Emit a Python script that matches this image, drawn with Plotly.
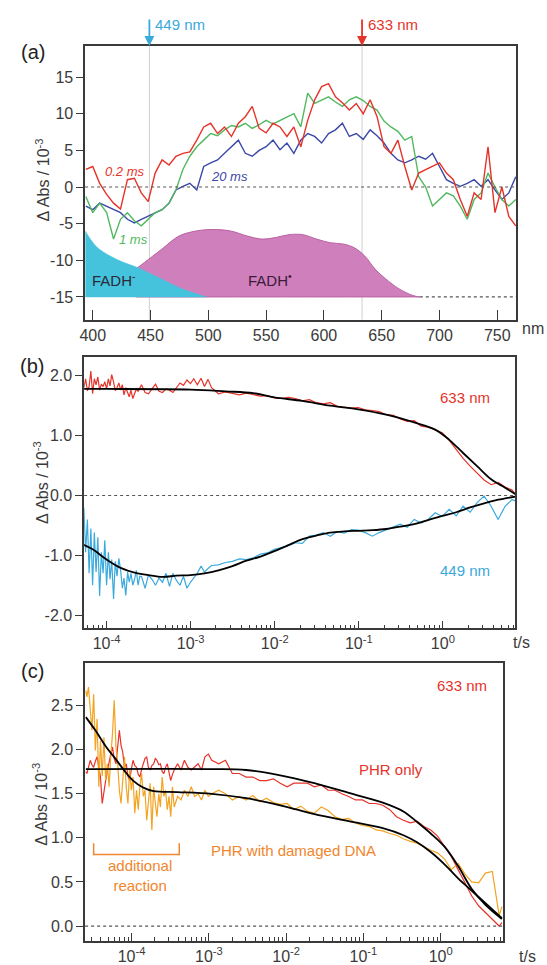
import math
import plotly.graph_objects as go

# ---------------- data: panel (a) transient spectra ----------------
wavelength_nm = [394, 400, 406, 412, 418, 424, 430, 436, 442, 448, 454, 460, 466, 472, 478, 484,
                 490, 496, 502, 508, 514, 520, 526, 532, 538, 544, 550, 556, 562, 568, 574, 580,
                 586, 592, 598, 604, 610, 616, 622, 628, 634, 640, 646, 652, 658, 664, 670, 676,
                 682, 688, 694, 700, 706, 712, 718, 724, 730, 736, 742, 748, 754, 760, 766]
spec_02ms = [2.4, 2.8, 0.5, -1.0, -2.2, -3.0, 1.0, 1.2, -0.8, -2.0, 1.9, 3.7, 3.0, 4.2, 4.6, 4.8,
             6.4, 8.2, 8.7, 7.3, 8.2, 6.9, 8.7, 9.6, 11.0, 8.0, 7.4, 8.7, 8.2, 6.9, 8.2, 5.5,
             9.1, 11.9, 13.7, 14.1, 12.3, 11.5, 10.5, 11.4, 10.0, 11.9, 9.6, 5.5, 4.6, 6.4, 2.8, -0.4,
             1.9, 2.4, 2.8, 3.3, 1.9, 1.0, -1.7, -4.0, -0.8, -1.7, 5.5, -3.5, 0.0, -4.0, -5.3]
spec_1ms = [-1.3, -3.5, -2.2, -3.5, -7.1, -4.4, -3.5, -4.6, -5.3, -4.4, -3.5, -3.1, -2.2, -0.4, 2.4, 4.2,
            5.5, 6.4, 7.3, 7.0, 7.8, 8.4, 8.2, 8.7, 8.0, 8.5, 9.1, 8.6, 9.1, 9.5, 10.0, 8.2,
            12.8, 11.4, 11.8, 12.3, 11.6, 11.0, 11.9, 12.3, 11.8, 11.0, 10.5, 9.0, 8.2, 7.6, 6.4, 6.9,
            1.4, 0.0, -2.6, -1.7, -0.8, -1.2, -2.6, -4.4, -1.7, -0.8, 1.9, 0.0, -1.7, -2.6, -1.7]
spec_20ms = [-2.6, -3.1, -2.2, -2.6, -3.1, -3.5, -4.4, -4.9, -4.4, -4.0, -3.5, -3.1, -2.2, -0.4, 0.1, 0.5,
             -0.4, 2.8, 3.3, 3.7, 4.6, 5.5, 6.4, 4.6, 4.2, 5.0, 5.5, 6.4, 5.1, 6.0, 4.6, 6.4,
             7.3, 6.9, 6.0, 7.3, 7.8, 8.7, 6.9, 7.3, 6.5, 7.8, 7.0, 6.0, 4.6, 3.7, 3.3, 3.7,
             4.2, 3.8, 4.6, 2.8, 1.0, 0.5, 0.1, 0.5, 1.0, 0.1, 1.0, -0.4, -1.7, -0.8, 1.4]
# reference absorption shapes (offset baseline)
ref_baseline = -15.0
fadh_anion_nm = [393.5, 403, 415, 427, 439, 451, 462.6, 474.5, 486.4, 498.3]
fadh_anion_val = [-6.0, -8.1, -9.4, -10.3, -11.0, -11.9, -12.8, -13.7, -14.4, -15.0]
fadh_radical_nm = [437.2, 444.7, 459.6, 474.5, 489.4, 504.3, 519.2, 534.0, 546.0, 557.9, 569.8,
                   581.7, 593.6, 605.5, 617.5, 626.4, 635.3, 644.3, 653.2, 665.1, 677.0, 683.0]
fadh_radical_val = [-11.2, -10.3, -8.5, -6.7, -6.0, -5.8, -6.0, -6.7, -7.1, -6.9, -6.5,
                    -6.5, -7.1, -7.6, -7.8, -8.3, -9.4, -11.2, -12.5, -13.9, -14.8, -15.0]
probe_nm = [449, 633]

# ---------------- data: panel (b) kinetics ----------------
t_b = [5.21e-5, 5.37e-5, 5.63e-5, 5.91e-5, 6.20e-5, 6.50e-5, 6.82e-5, 7.15e-5, 7.50e-5, 7.87e-5,
       8.26e-5, 8.67e-5, 9.09e-5, 9.53e-5, 1.00e-4, 1.05e-4, 1.10e-4, 1.15e-4, 1.21e-4, 1.27e-4,
       1.33e-4, 1.40e-4, 1.47e-4, 1.54e-4, 1.61e-4, 1.69e-4, 1.78e-4, 1.86e-4, 1.95e-4, 2.05e-4,
       2.15e-4, 2.26e-4, 2.37e-4, 2.48e-4, 2.60e-4,
       2.87e-4, 3.15e-4, 3.47e-4, 3.82e-4, 4.20e-4, 4.63e-4, 5.09e-4, 5.60e-4, 6.16e-4, 6.78e-4,
       7.46e-4, 8.21e-4, 9.03e-4, 9.94e-4, 1.09e-3, 1.20e-3, 1.33e-3, 1.46e-3, 1.61e-3, 1.77e-3,
       2.14e-3, 2.59e-3, 3.14e-3, 3.80e-3, 4.60e-3, 5.57e-3, 6.75e-3, 8.18e-3, 9.91e-3, 0.0120,
       0.0145, 0.0176, 0.0213, 0.0258, 0.0313, 0.0379, 0.0458, 0.0555, 0.0672, 0.0814,
       0.0986, 0.119, 0.145, 0.175, 0.212, 0.257, 0.311, 0.377, 0.456, 0.552,
       0.669, 0.810, 0.981, 1.19, 1.44, 1.74, 2.11, 2.55, 3.09, 3.75, 4.54, 5.50, 6.65, 7.31]
abs633_b = [1.88, 1.80, 1.95, 1.75, 1.82, 2.08, 1.70, 1.95, 1.85, 1.98,
            1.76, 1.86, 1.82, 1.90, 1.78, 1.95, 1.83, 2.02, 1.90, 1.75,
            1.80, 1.88, 1.76, 1.85, 1.68, 1.80, 1.72, 1.65, 1.76, 1.62,
            1.70, 1.78, 1.74, 1.80, 1.85,
            1.72, 1.70, 1.78, 1.86, 1.74, 1.72, 1.78, 1.76, 1.72, 1.80,
            1.88, 1.84, 1.93, 1.87, 1.95, 1.85, 1.96, 1.82, 1.94, 1.80,
            1.70, 1.73, 1.70, 1.68, 1.71, 1.68, 1.66, 1.67, 1.63, 1.62,
            1.64, 1.62, 1.58, 1.60, 1.55, 1.53, 1.55, 1.49, 1.48, 1.46,
            1.47, 1.43, 1.42, 1.40, 1.35, 1.34, 1.28, 1.24, 1.25, 1.16,
            1.14, 1.10, 1.05, 0.92, 0.77, 0.62, 0.49, 0.38, 0.26, 0.18, 0.22, 0.14, 0.09, 0.02]
abs449_b = [-0.50, -0.20, -0.95, -0.40, -1.30, -0.55, -1.50, -0.62, -1.28, -0.70,
            -1.68, -0.95, -1.30, -0.75, -1.50, -0.95, -1.40, -1.07, -1.73, -1.10,
            -1.35, -1.05, -1.25, -1.55, -1.38, -1.67, -1.28, -1.45, -1.30, -1.50,
            -1.40, -1.25, -1.50, -1.35, -1.35,
            -1.55, -1.33, -1.40, -1.50, -1.38, -1.45, -1.30, -1.52, -1.30, -1.42,
            -1.50, -1.35, -1.55, -1.45, -1.38, -1.30, -1.18, -1.28, -1.22, -1.17,
            -1.16, -1.12, -1.10, -1.06, -1.07, -1.04, -0.98, -0.96, -0.90, -0.87,
            -0.84, -0.79, -0.80, -0.68, -0.66, -0.62, -0.68, -0.60, -0.63, -0.57,
            -0.58, -0.62, -0.68, -0.62, -0.57, -0.52, -0.48, -0.53, -0.40, -0.46,
            -0.40, -0.29, -0.35, -0.23, -0.34, -0.18, -0.28, -0.12, -0.01, -0.18, -0.40, -0.18, -0.07, -0.09]
fit633_t = [5.21e-5, 1.0e-4, 1.0e-3, 2.59e-3, 5.57e-3, 9.91e-3, 0.0213, 0.0458, 0.0986,
            0.212, 0.456, 0.810, 1.19, 1.74, 2.55, 3.75, 5.50, 7.31]
fit633_v = [1.78, 1.78, 1.77, 1.74, 1.71, 1.64, 1.58, 1.50, 1.44,
            1.35, 1.22, 1.10, 0.93, 0.71, 0.49, 0.27, 0.13, 0.02]
fit449_t = [5.21e-5, 6.82e-5, 1.0e-4, 1.47e-4, 2.15e-4, 3.15e-4, 4.63e-4, 6.78e-4, 9.94e-4,
            1.46e-3, 2.14e-3, 3.14e-3, 4.60e-3, 6.75e-3, 9.91e-3, 0.0145, 0.0213, 0.0313,
            0.0458, 0.0672, 0.0986, 0.145, 0.212, 0.311, 0.456, 0.669, 0.981, 1.44, 2.11,
            3.09, 4.54, 7.31]
fit449_v = [-0.82, -0.90, -1.07, -1.21, -1.29, -1.33, -1.36, -1.34, -1.33,
            -1.30, -1.25, -1.18, -1.09, -1.02, -0.93, -0.83, -0.73, -0.67,
            -0.62, -0.60, -0.59, -0.58, -0.56, -0.52, -0.48, -0.41, -0.34, -0.28, -0.20,
            -0.13, -0.07, -0.02]

# ---------------- data: panel (c) kinetics at 633 nm ----------------
t_c = [2.56e-5, 2.64e-5, 2.77e-5, 2.92e-5, 3.07e-5, 3.23e-5, 3.40e-5, 3.58e-5, 3.77e-5, 3.96e-5,
       4.17e-5, 4.39e-5, 4.62e-5, 4.86e-5, 5.12e-5, 5.38e-5, 5.66e-5, 5.96e-5, 6.28e-5, 6.61e-5,
       6.95e-5, 7.31e-5, 7.69e-5, 8.10e-5, 8.53e-5, 8.97e-5, 9.44e-5, 9.93e-5, 1.045e-4, 1.10e-4,
       1.16e-4, 1.22e-4, 1.28e-4, 1.35e-4, 1.42e-4, 1.49e-4, 1.57e-4, 1.65e-4, 1.74e-4, 1.83e-4,
       1.93e-4, 2.03e-4, 2.13e-4, 2.25e-4, 2.36e-4, 2.49e-4, 2.62e-4, 2.75e-4, 2.90e-4, 3.05e-4,
       3.21e-4, 3.38e-4, 3.56e-4,
       3.94e-4, 4.36e-4, 4.83e-4, 5.35e-4, 5.92e-4, 6.55e-4, 7.26e-4, 8.03e-4, 8.89e-4, 9.86e-4, 1.09e-3,
       1.34e-3, 1.64e-3, 2.01e-3, 2.47e-3, 3.03e-3, 3.71e-3, 4.55e-3, 5.57e-3, 6.84e-3, 8.38e-3,
       0.0103, 0.0126, 0.0155, 0.0189, 0.0232, 0.0285, 0.0349, 0.0428, 0.0525, 0.0644,
       0.0789, 0.0968, 0.119, 0.146, 0.178, 0.219, 0.268, 0.329, 0.403, 0.494,
       0.606, 0.743, 0.910, 1.12, 1.37, 1.68, 2.06, 2.52, 3.09, 3.79, 4.65, 5.70, 6.19]
phr_only = [1.75, 1.73, 1.80, 1.88, 1.83, 1.80, 1.87, 1.92, 1.80, 1.69,
            1.39, 1.55, 1.65, 1.76, 1.84, 1.95, 2.03, 1.90, 1.84, 2.05,
            2.22, 2.05, 1.97, 1.80, 1.84, 1.70, 1.65, 1.78, 1.88, 1.82,
            1.80, 1.72, 1.69, 1.78, 1.84, 1.90, 1.92, 1.80, 1.77, 1.82,
            1.84, 1.90, 1.88, 1.83, 1.84, 1.75, 1.73, 1.80, 1.84, 1.74,
            1.65, 1.72, 1.77,
            1.84, 1.77, 1.88, 1.80, 1.77, 1.80, 1.84, 1.77, 1.92, 1.95, 1.88,
            1.84, 1.88, 1.73, 1.73, 1.69, 1.69, 1.65, 1.65, 1.67, 1.62,
            1.58, 1.62, 1.62, 1.62, 1.58, 1.60, 1.54, 1.54, 1.50, 1.47,
            1.43, 1.43, 1.39, 1.39, 1.37, 1.32, 1.24, 1.20, 1.17, 1.19,
            1.13, 1.09, 1.02, 0.90, 0.79, 0.64, 0.49, 0.34, 0.23, 0.15, 0.08, 0.00, 0.04]
phr_dna = [2.67, 2.60, 2.71, 2.45, 2.22, 2.63, 1.99, 2.35, 1.58, 2.10,
           1.70, 2.14, 1.65, 1.84, 1.58, 1.92, 2.18, 2.56, 2.03, 1.84,
           1.54, 1.39, 1.69, 1.92, 1.58, 1.39, 1.77, 1.54, 1.69, 1.28,
           1.54, 1.32, 1.58, 1.73, 1.47, 1.54, 1.20, 1.43, 1.62, 1.09,
           1.58, 1.39, 1.24, 1.50, 1.35, 1.69, 1.47, 1.54, 1.32, 1.47,
           1.24, 1.58, 1.35,
           1.47, 1.43, 1.54, 1.47, 1.58, 1.47, 1.50, 1.43, 1.54, 1.47, 1.50,
           1.54, 1.50, 1.43, 1.47, 1.43, 1.48, 1.41, 1.45, 1.40, 1.38,
           1.39, 1.32, 1.36, 1.30, 1.28, 1.35, 1.31, 1.24, 1.21, 1.22,
           1.17, 1.14, 1.13, 1.09, 1.08, 1.05, 1.03, 0.99, 0.96, 0.94,
           0.90, 0.86, 0.83, 0.76, 0.64, 0.71, 0.59, 0.50, 0.49, 0.60, 0.62, 0.12, 0.22]
fitc_only_t = [2.56e-5, 1.09e-3, 3.03e-3, 8.38e-3, 0.0232, 0.0644, 0.178, 0.329, 0.494,
               0.743, 1.12, 1.68, 2.52, 3.79, 6.19]
fitc_only_v = [1.78, 1.78, 1.77, 1.71, 1.62, 1.51, 1.40, 1.30, 1.18,
               1.05, 0.90, 0.68, 0.42, 0.24, 0.08]
fitc_dna_t = [2.56e-5, 3.40e-5, 4.62e-5, 6.28e-5, 8.10e-5, 1.045e-4, 1.42e-4, 1.93e-4, 3.94e-4,
              1.09e-3, 3.03e-3, 8.38e-3, 0.0232, 0.0644, 0.178, 0.329, 0.494, 0.743, 1.12,
              1.68, 2.52, 3.79, 6.19]
fitc_dna_v = [2.37, 2.22, 2.04, 1.89, 1.76, 1.65, 1.57, 1.53, 1.52,
              1.50, 1.45, 1.37, 1.27, 1.19, 1.11, 1.03, 0.95, 0.84, 0.70,
              0.54, 0.40, 0.26, 0.09]
bracket_t = [3.23e-5, 4.14e-4]
bracket_y = [0.94, 0.81]

# ---------------- styling ----------------
W, H = 547, 965
FONT = "Liberation Sans, Arial, sans-serif"
RED = "#e6332a"
CYAN = "#3aa9dc"
GREEN = "#52b860"
NAVY = "#3b48a6"
ORANGE = "#f2a321"
ORANGE_TXT = "#f0862e"
AXC = "#3a3a3a"


def px_x(p):
    return p / W


def px_y(p):
    return 1 - p / H


fig = go.Figure()

# panel (a)
fig.add_trace(go.Scatter(x=fadh_radical_nm + [fadh_radical_nm[-1], fadh_radical_nm[0]],
                         y=fadh_radical_val + [ref_baseline, ref_baseline],
                         fill="toself", fillcolor="#d07fbd", mode="lines", line=dict(color="#b9619f", width=1, shape="spline"),
                         xaxis="x", yaxis="y", hoverinfo="skip"))
fig.add_trace(go.Scatter(x=fadh_anion_nm + [fadh_anion_nm[-1], fadh_anion_nm[0]],
                         y=fadh_anion_val + [ref_baseline, ref_baseline],
                         fill="toself", fillcolor="#45c3dc", mode="lines", line=dict(color="#45c3dc", width=0.5, shape="spline"),
                         xaxis="x", yaxis="y", hoverinfo="skip"))
for vals, col in [(spec_20ms, NAVY), (spec_1ms, GREEN), (spec_02ms, RED)]:
    fig.add_trace(go.Scatter(x=wavelength_nm, y=vals, mode="lines", line=dict(color=col, width=1.4),
                             xaxis="x", yaxis="y"))

# panel (b)
fig.add_trace(go.Scatter(x=t_b, y=abs633_b, mode="lines", line=dict(color=RED, width=1.2), xaxis="x2", yaxis="y2"))
fig.add_trace(go.Scatter(x=t_b, y=abs449_b, mode="lines", line=dict(color=CYAN, width=1.2), xaxis="x2", yaxis="y2"))
fig.add_trace(go.Scatter(x=fit633_t, y=fit633_v, mode="lines", line=dict(color="black", width=1.8, shape="spline"), xaxis="x2", yaxis="y2"))
fig.add_trace(go.Scatter(x=fit449_t, y=fit449_v, mode="lines", line=dict(color="black", width=1.8, shape="spline"), xaxis="x2", yaxis="y2"))

# panel (c)
fig.add_trace(go.Scatter(x=t_c, y=phr_only, mode="lines", line=dict(color=RED, width=1.2), xaxis="x3", yaxis="y3"))
fig.add_trace(go.Scatter(x=t_c, y=phr_dna, mode="lines", line=dict(color=ORANGE, width=1.2), xaxis="x3", yaxis="y3"))
fig.add_trace(go.Scatter(x=fitc_only_t, y=fitc_only_v, mode="lines", line=dict(color="black", width=1.8, shape="spline"), xaxis="x3", yaxis="y3"))
fig.add_trace(go.Scatter(x=fitc_dna_t, y=fitc_dna_v, mode="lines", line=dict(color="black", width=1.8, shape="spline"), xaxis="x3", yaxis="y3"))
fig.add_trace(go.Scatter(x=[bracket_t[0], bracket_t[0], bracket_t[1], bracket_t[1]],
                         y=[bracket_y[0], bracket_y[1], bracket_y[1], bracket_y[0]],
                         mode="lines", line=dict(color=ORANGE_TXT, width=1.5), xaxis="x3", yaxis="y3"))

# axes
tickfont = dict(family=FONT, size=16, color=AXC)
common = dict(showline=True, linecolor=AXC, linewidth=1.5, mirror=True, showgrid=False, zeroline=False,
              tickfont=tickfont, tickcolor=AXC, tickwidth=1.3)

dec_vals = [1e-4, 1e-3, 1e-2, 1e-1, 1]
dec_text = ["10<sup>-4</sup>", "10<sup>-3</sup>", "10<sup>-2</sup>", "10<sup>-1</sup>", "10<sup>0</sup>"]
minor_vals = [k * 10.0 ** e for e in range(-5, 1) for k in range(2, 10)]

fig.update_layout(
    width=W, height=H, margin=dict(l=0, r=0, t=0, b=0),
    paper_bgcolor="white", plot_bgcolor="white", showlegend=False,
    font=dict(family=FONT, color=AXC),
    xaxis=dict(domain=[px_x(80), px_x(516)], range=[393.4, 766.5], anchor="y",
               tickvals=[400, 450, 500, 550, 600, 650, 700, 750], ticks="inside", ticklen=10, **common),
    yaxis=dict(domain=[px_y(320), px_y(46)], range=[-18.1, 19.25], anchor="x",
               tickvals=[15, 10, 5, 0, -5, -10, -15], ticktext=["15", "10", "5", "0", "-5", "-10", "-15"],
               ticks="outside", ticklen=7, **common),
    xaxis2=dict(domain=[px_x(79), px_x(515)], type="log", range=[-4.267, 0.862], anchor="y2",
                tickvals=dec_vals, ticktext=dec_text, ticks="inside", ticklen=8,
                minor=dict(tickvals=minor_vals, ticks="inside", ticklen=4, tickcolor=AXC, tickwidth=1.2),
                **common),
    yaxis2=dict(domain=[px_y(629), px_y(357)], range=[-2.22, 2.32], anchor="x2",
                tickvals=[2, 1, 0, -1, -2], ticktext=["2.0", "1.0", "0.0", "-1.0", "-2.0"],
                ticks="outside", ticklen=7, **common),
    xaxis3=dict(domain=[px_x(80), px_x(503)], type="log", range=[-4.601, 0.812], anchor="y3",
                tickvals=dec_vals, ticktext=dec_text, ticks="inside", ticklen=8,
                minor=dict(tickvals=minor_vals, ticks="inside", ticklen=4, tickcolor=AXC, tickwidth=1.2),
                **common),
    yaxis3=dict(domain=[px_y(942), px_y(664)], range=[-0.17, 2.98], anchor="x3",
                tickvals=[0, 0.5, 1.0, 1.5, 2.0, 2.5], ticktext=["0.0", "0.5", "1.0", "1.5", "2.0", "2.5"],
                ticks="outside", ticklen=7, **common),
)

# shapes: probe lines, zero lines, baseline
shapes = []
for wl in probe_nm:
    shapes.append(dict(type="line", xref="x", yref="y domain", x0=wl, x1=wl, y0=0, y1=1,
                       line=dict(color="#cfcfcf", width=1), layer="below"))
shapes.append(dict(type="line", xref="x domain", yref="y", x0=0, x1=1, y0=0, y1=0,
                   line=dict(color="#555", width=1.2, dash="dot")))
shapes.append(dict(type="line", xref="x", yref="y", x0=fadh_radical_nm[-1], x1=766.5, y0=ref_baseline, y1=ref_baseline,
                   line=dict(color="#555", width=1.2, dash="dot")))
shapes.append(dict(type="line", xref="x2 domain", yref="y2", x0=0, x1=1, y0=0, y1=0,
                   line=dict(color="#555", width=1.2, dash="dot")))
shapes.append(dict(type="line", xref="x3 domain", yref="y3", x0=0, x1=1, y0=0, y1=0,
                   line=dict(color="#555", width=1.2, dash="dot")))
fig.update_layout(shapes=shapes)

ann = []


def txt(text, x, y, xref, yref, size=15, color=AXC, italic=False, **kw):
    t = f"<i>{text}</i>" if italic else text
    d = dict(text=t, x=x, y=y, xref=xref, yref=yref, showarrow=False,
             xanchor="center", yanchor="middle",
             font=dict(family=FONT, size=size, color=color))
    d.update(kw)
    ann.append(d)


# panel letters
txt("(a)", px_x(27), px_y(52), "paper", "paper", size=20, color="#222")
txt("(b)", px_x(26), px_y(366), "paper", "paper", size=20, color="#222")
txt("(c)", px_x(27), px_y(672), "paper", "paper", size=20, color="#222")
# axis titles
ytitle = "Δ Abs / 10<sup>-3</sup>"
txt(ytitle, px_x(37), px_y(180), "paper", "paper", size=16, textangle=-90)
txt(ytitle, px_x(36), px_y(483), "paper", "paper", size=16, textangle=-90)
txt(ytitle, px_x(35), px_y(805), "paper", "paper", size=16, textangle=-90)
txt("nm", px_x(533), px_y(329), "paper", "paper", size=16)
txt("t/s", px_x(521), px_y(643), "paper", "paper", size=16)
txt("t/s", px_x(527), px_y(957), "paper", "paper", size=16)

# panel (a) annotations
for wl, col in [(449, CYAN), (633, RED)]:
    ann.append(dict(text="", x=wl, y=1, xref="x", yref="y domain", showarrow=True, ax=0, ay=-28,
                    arrowhead=2, arrowsize=1.1, arrowwidth=1.8, arrowcolor=col))
    txt(f"{wl} nm", wl, px_y(25), "x", "paper", size=15, color=col, xanchor="left", xshift=4)
txt("0.2 ms", 428, 2.1, "x", "y", size=13, color=RED, italic=True)
txt("20 ms", 518, 1.45, "x", "y", size=13, color=NAVY, italic=True)
txt("1 ms", 435, -7.1, "x", "y", size=13, color=GREEN, italic=True)
txt("FADH<sup>-</sup>", 418, -12.6, "x", "y", size=15, color="#2a2a3a")
txt("FADH<sup>•</sup>", 553, -12.6, "x", "y", size=15, color="#3a1a3a")

# panel (b) annotations
txt("633 nm", math.log10(1.83), 1.63, "x2", "y2", size=15, color=RED)
txt("449 nm", math.log10(1.83), -1.26, "x2", "y2", size=15, color=CYAN)

# panel (c) annotations
txt("633 nm", math.log10(1.86), 2.73, "x3", "y3", size=15, color=RED)
txt("PHR only", math.log10(0.23), 1.77, "x3", "y3", size=15, color=RED)
txt("PHR with damaged DNA", math.log10(0.0123), 0.86, "x3", "y3", size=15, color=ORANGE_TXT)
txt("additional<br>reaction", math.log10(1.29e-4), 0.57, "x3", "y3", size=15, color=ORANGE_TXT)

fig.update_layout(annotations=ann)
fig.write_html("out.html", config={"displayModeBar": False},
               post_script="document.body.style.margin='0px';document.body.style.padding='0px';")
